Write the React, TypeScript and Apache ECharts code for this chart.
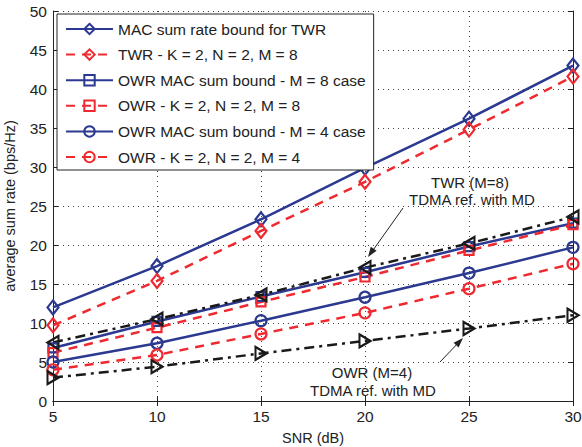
import React, { useEffect, useRef } from "react";
import * as echarts from "echarts";

const snr = [5, 10, 15, 20, 25, 30];
const macTwr = [12.0, 17.3, 23.3, 29.9, 36.2, 43.0];
const twrK2M8 = [9.7, 15.4, 21.8, 28.1, 34.8, 41.6];
const owrMacM8 = [6.8, 10.2, 13.4, 16.5, 19.8, 22.8];
const owrK2M8 = [6.2, 9.4, 12.7, 15.9, 19.3, 22.6];
const owrMacM4 = [5.0, 7.4, 10.3, 13.3, 16.4, 19.7];
const owrK2M4 = [4.0, 5.9, 8.6, 11.3, 14.4, 17.6];
const tdmaTwrM8 = [7.5, 10.5, 13.6, 17.1, 20.2, 23.6];
const tdmaOwrM4 = [3.0, 4.4, 6.1, 7.7, 9.3, 11.0];

const names = [
  "MAC sum rate bound for TWR",
  "TWR - K = 2, N = 2, M = 8",
  "OWR MAC sum bound - M = 8 case",
  "OWR - K = 2, N = 2, M = 8",
  "OWR MAC sum bound - M = 4 case",
  "OWR - K = 2, N = 2, M = 4",
];

const BLUE = "#2b3990";
const RED = "#ee2a30";
const BLACK = "#1a1a1a";
const FONT = "Liberation Sans, Arial, sans-serif";

const pts = (ys: number[]) => snr.map((x, i) => [x, ys[i]]);

function mk(
  name: string,
  ys: number[],
  color: string,
  lineType: any,
  symbol: string,
  symbolSize: any,
  symbolRotate = 0
) {
  return {
    name,
    type: "line",
    data: pts(ys),
    symbol,
    symbolSize,
    symbolRotate,
    showAllSymbol: true,
    lineStyle: { color, width: 2.5, type: lineType },
    itemStyle: { color: "rgba(255,255,255,0)", borderColor: color, borderWidth: 2.2 },
    emphasis: { disabled: true },
  };
}

export default function App() {
  const ref = useRef<HTMLDivElement>(null);
  useEffect(() => {
    const chart = echarts.init(ref.current!, null, { renderer: "svg" });
    const dash = [9, 7];
    const dashDot = [10, 5, 3, 5];
    const axisCommon = {
      type: "value",
      axisLine: { show: true, lineStyle: { color: "#222", width: 1 } },
      axisTick: { show: true, inside: true, length: 5, lineStyle: { color: "#222" } },
    };
    const txt = (x: number, y: number, text: string) => ({
      type: "text",
      x,
      y,
      style: { text, fontSize: 15, fill: "#222", align: "center", verticalAlign: "middle", fontFamily: FONT },
    });
    chart.setOption({
      animation: false,
      backgroundColor: "#fff",
      textStyle: { fontFamily: FONT },
      grid: {
        left: 53,
        right: 9,
        top: 11,
        bottom: 46,
        containLabel: false,
        outerBoundsMode: "none",
      },
      xAxis: [
        {
          ...axisCommon,
          min: 5,
          max: 30,
          interval: 5,
          name: "SNR (dB)",
          nameLocation: "middle",
          nameGap: 29,
          nameTextStyle: { fontSize: 14.5, color: "#222", fontFamily: FONT },
          axisLabel: { fontSize: 15.5, color: "#222", margin: 7, fontFamily: FONT },
          splitLine: { show: true, lineStyle: { color: "#444", type: [1, 4], width: 1 } },
        },
        {
          ...axisCommon,
          position: "top",
          min: 5,
          max: 30,
          interval: 5,
          axisLabel: { show: false },
          splitLine: { show: false },
        },
      ],
      yAxis: [
        {
          ...axisCommon,
          min: 0,
          max: 50,
          interval: 5,
          name: "average sum rate (bps/Hz)",
          nameLocation: "middle",
          nameGap: 36,
          nameTextStyle: { fontSize: 14.5, color: "#222", fontFamily: FONT },
          axisLabel: { fontSize: 15.5, color: "#222", margin: 6, fontFamily: FONT },
          splitLine: { show: true, lineStyle: { color: "#444", type: [1, 4], width: 1 } },
        },
        {
          ...axisCommon,
          position: "right",
          min: 0,
          max: 50,
          interval: 5,
          axisLabel: { show: false },
          splitLine: { show: false },
        },
      ],
      legend: {
        data: names,
        orient: "vertical",
        left: 57,
        top: 14,
        itemWidth: 47,
        itemHeight: 13,
        itemGap: 9.6,
        padding: [7, 8, 5, 8],
        backgroundColor: "#fff",
        borderColor: "#222",
        borderWidth: 1,
        textStyle: { fontSize: 15.5, color: "#222", fontFamily: FONT },
      },
      series: [
        mk(names[0], macTwr, BLUE, "solid", "diamond", [11, 14]),
        mk(names[1], twrK2M8, RED, dash, "diamond", [11, 14]),
        mk(names[2], owrMacM8, BLUE, "solid", "rect", 9),
        mk(names[3], owrK2M8, RED, dash, "rect", 9),
        mk(names[4], owrMacM4, BLUE, "solid", "circle", 11),
        mk(names[5], owrK2M4, RED, dash, "circle", 11),
        mk("TWR (M=8) TDMA ref. with MD", tdmaTwrM8, BLACK, dashDot, "triangle", [13, 11], 90),
        mk("OWR (M=4) TDMA ref. with MD", tdmaOwrM4, BLACK, dashDot, "triangle", [13, 11], -90),
      ],
      graphic: [
        txt(470, 182, "TWR (M=8)"),
        txt(472, 199, "TDMA ref. with MD"),
        {
          type: "line",
          shape: { x1: 403, y1: 208, x2: 371, y2: 253 },
          style: { stroke: "#222", lineWidth: 1 },
        },
        {
          type: "polygon",
          shape: { points: [[368, 257], [376.6, 250.8], [370.8, 246.8]] },
          style: { fill: "#222" },
        },
        txt(372, 372, "OWR (M=4)"),
        txt(373, 390, "TDMA ref. with MD"),
        {
          type: "line",
          shape: { x1: 440, y1: 362, x2: 460, y2: 341 },
          style: { stroke: "#222", lineWidth: 1 },
        },
        {
          type: "polygon",
          shape: { points: [[463, 338], [458.6, 347.6], [453.6, 342.8]] },
          style: { fill: "#222" },
        },
      ],
    });
    return () => chart.dispose();
  }, []);
  return (
    <div
      ref={ref}
      style={{ position: "fixed", left: 0, top: 0, width: 582, height: 447 }}
    />
  );
}
